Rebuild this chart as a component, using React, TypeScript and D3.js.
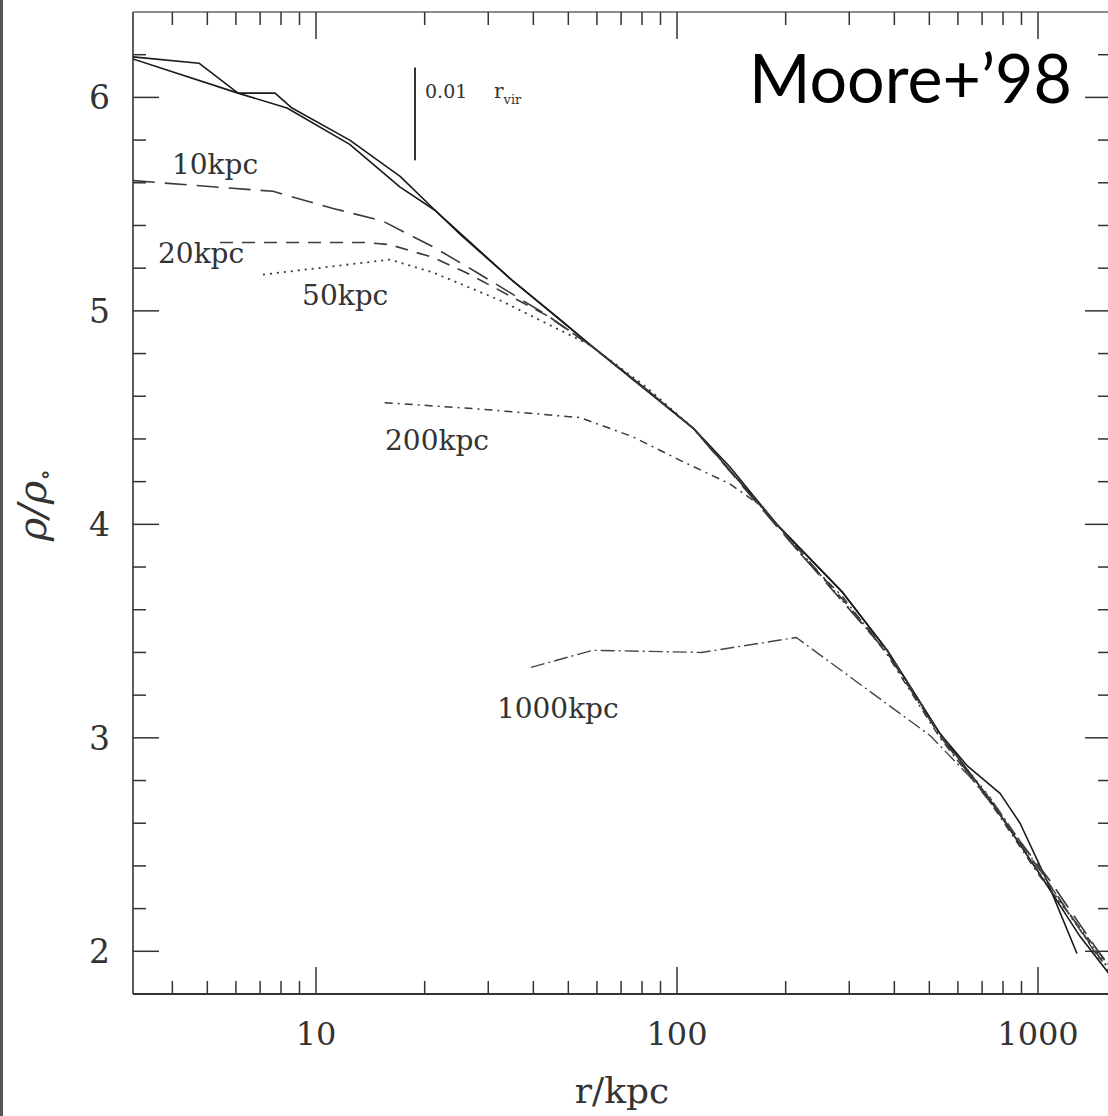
import React from 'react';
import * as d3 from 'd3';

const W = 1108;
const H = 1116;

// axis domains (r in kpc, log) and rho/rho0
const xDomain: [number, number] = [3.112, 1593];
const yDomain: [number, number] = [1.8, 6.4];

const xMajorTicks = [10, 100, 1000];
const xTickLabels = ['10', '100', '1000'];
const yMajorTicks = [2, 3, 4, 5, 6];
const yTickLabels = ['2', '3', '4', '5', '6'];

// profiles: [r (kpc), rho/rho0]
const solidA: [number, number][] = [
  [3.11, 6.19], [4.74, 6.16], [6.08, 6.02], [7.7, 6.02], [8.58, 5.95], [12.4, 5.8],
  [17.1, 5.63], [21.4, 5.47], [25.0, 5.36], [35.1, 5.14], [47.4, 4.96], [58.5, 4.83],
  [82.6, 4.63], [111, 4.45], [140, 4.27], [189, 4.0], [288, 3.68], [382, 3.41],
  [535, 3.02], [636, 2.87], [785, 2.74], [892, 2.6], [1059, 2.33], [1282, 1.99],
];
const solidB: [number, number][] = [
  [3.11, 6.18], [6.08, 6.02], [8.31, 5.95], [12.4, 5.78], [17.1, 5.58], [21.4, 5.47],
  [35.1, 5.14], [58.5, 4.83], [111, 4.45], [189, 4.0], [288, 3.68], [382, 3.41],
  [535, 3.02], [736, 2.71], [1013, 2.36], [1307, 2.07], [1582, 1.89],
];
const kpc10: [number, number][] = [
  [3.11, 5.61], [7.6, 5.56], [11.15, 5.48], [15.33, 5.42], [21.1, 5.3], [27.9, 5.18],
  [43.6, 4.98], [58.5, 4.83], [111, 4.45], [189, 3.99], [382, 3.4], [535, 3.01],
  [736, 2.7], [1080, 2.33], [1582, 1.92],
];
const kpc20: [number, number][] = [
  [5.42, 5.32], [13.75, 5.32], [16.03, 5.31], [21.1, 5.25], [26.0, 5.18], [43.4, 4.98],
  [58.5, 4.83], [111, 4.45], [189, 4.0], [382, 3.41], [535, 3.02], [736, 2.71],
  [1050, 2.34], [1582, 1.9],
];
const kpc50: [number, number][] = [
  [7.13, 5.17], [16.0, 5.24], [21.1, 5.18], [32.3, 5.05], [57.4, 4.84], [82.6, 4.64],
  [111, 4.45], [189, 4.0], [382, 3.4], [535, 3.01], [736, 2.72], [1013, 2.36], [1582, 1.91],
];
const kpc200: [number, number][] = [
  [15.5, 4.57], [28.5, 4.54], [53.9, 4.5], [75.5, 4.41], [102, 4.3], [140, 4.19],
  [173, 4.08], [223, 3.85], [288, 3.66], [382, 3.39], [535, 3.0], [736, 2.7],
  [1013, 2.35], [1582, 1.93],
];
const kpc1000: [number, number][] = [
  [39.4, 3.33], [58.5, 3.41], [117, 3.4], [214, 3.47], [503, 3.01], [736, 2.72],
  [1013, 2.38], [1485, 1.96],
];

const seriesLabels = ['10kpc', '20kpc', '50kpc', '200kpc', '1000kpc'];
// label anchors in data space: [r, rho]
const labelAnchors: [number, number][] = [
  [3.99, 5.64], [3.65, 5.225], [9.15, 5.026], [15.53, 4.347], [31.7, 3.091],
];
const rvirMark: [number, number, number] = [18.8, 6.14, 5.705];

export default function App() {
  const x = d3.scaleLog().domain(xDomain).range([133, 1111]);
  const y = d3.scaleLinear().domain(yDomain).range([994, 12]);
  const line = d3
    .line<[number, number]>()
    .x((d) => x(d[0]))
    .y((d) => y(d[1]));

  const xAll = x.ticks().filter((t) => t > xDomain[0] && t < xDomain[1]);
  const isMajorX = (t: number) => Math.abs(Math.log10(t) - Math.round(Math.log10(t))) < 1e-9;
  const yAll = d3.range(2.0, 6.401, 0.2).map((v) => +v.toFixed(1)).filter((v) => v < 6.39);
  const isMajorY = (v: number) => Math.abs(v - Math.round(v)) < 1e-6;

  const x0 = 133, x1 = 1111, y0 = 994, y1 = 12;
  const axisColor = '#333';
  const serif = '"DejaVu Serif", serif';

  const curves = [
    { d: solidA, dash: undefined, color: '#1a1a1a', w: 1.6 },
    { d: solidB, dash: undefined, color: '#1a1a1a', w: 1.6 },
    { d: kpc10, dash: '22 10', color: '#3a3a3a', w: 1.6 },
    { d: kpc20, dash: '13 9', color: '#3a3a3a', w: 1.6 },
    { d: kpc50, dash: '2 5', color: '#3a3a3a', w: 1.8 },
    { d: kpc200, dash: '8 5 2 5', color: '#3a3a3a', w: 1.5 },
    { d: kpc1000, dash: '14 4 2 4', color: '#444', w: 1.4 },
  ];

  return (
    <svg
      width={W}
      height={H}
      style={{ position: 'absolute', left: 0, top: 0, background: '#fff' }}
    >
      <rect x={0} y={0} width={W} height={H} fill="#fff" />
      <line x1={1.5} x2={1.5} y1={0} y2={H} stroke="#555" strokeWidth={3} />
      <defs>
        <clipPath id="plot">
          <rect x={x0} y={y1} width={x1 - x0} height={y0 - y1} />
        </clipPath>
      </defs>

      {/* frame */}
      <line x1={x0} x2={x0} y1={y1} y2={y0} stroke={axisColor} strokeWidth={1.6} />
      <line x1={x0} x2={x1} y1={y0} y2={y0} stroke={axisColor} strokeWidth={1.8} />
      <line x1={x0} x2={x1} y1={y1} y2={y1} stroke="#666" strokeWidth={1.6} />
      <line x1={x1} x2={x1} y1={y1} y2={y0} stroke={axisColor} strokeWidth={1.6} />

      {/* x ticks */}
      {xAll.map((t, i) => {
        const L = isMajorX(t) ? 27 : 13;
        return (
          <g key={'xt' + i} stroke={axisColor} strokeWidth={1.5}>
            <line x1={x(t)} x2={x(t)} y1={y0} y2={y0 - L} />
            <line x1={x(t)} x2={x(t)} y1={y1} y2={y1 + L} />
          </g>
        );
      })}
      {/* y ticks */}
      {yAll.map((v, i) => {
        const L = isMajorY(v) ? 26 : 13;
        return (
          <g key={'yt' + i} stroke={axisColor} strokeWidth={1.5}>
            <line x1={x0} x2={x0 + L} y1={y(v)} y2={y(v)} />
            <line x1={x1} x2={x1 - L} y1={y(v)} y2={y(v)} />
          </g>
        );
      })}

      {/* tick labels */}
      {xMajorTicks.map((t, i) => (
        <text
          key={'xl' + i}
          x={x(t)}
          y={1045}
          textAnchor="middle"
          fontFamily={serif}
          fontSize={32}
          fill="#333"
        >
          {xTickLabels[i]}
        </text>
      ))}
      {yMajorTicks.map((v, i) => (
        <text
          key={'yl' + i}
          x={110}
          y={y(v) + 12}
          textAnchor="end"
          fontFamily={serif}
          fontSize={33}
          fill="#333"
        >
          {yTickLabels[i]}
        </text>
      ))}

      {/* axis titles */}
      <text x={622} y={1103} textAnchor="middle" fontFamily={serif} fontSize={36} fill="#333">
        r/kpc
      </text>
      <text
        transform="translate(46,505) rotate(-90)"
        textAnchor="middle"
        fontFamily={serif}
        fontStyle="italic"
        fontSize={40}
        fill="#333"
      >
        ρ/ρ
        <tspan fontSize={24} dy={7} fontStyle="normal">∘</tspan>
      </text>

      {/* curves */}
      <g clipPath="url(#plot)" fill="none" strokeLinejoin="round">
        {curves.map((c, i) => (
          <path
            key={'c' + i}
            d={line(c.d) || ''}
            stroke={c.color}
            strokeWidth={c.w}
            strokeDasharray={c.dash}
          />
        ))}
      </g>

      {/* series labels */}
      {seriesLabels.map((s, i) => (
        <text
          key={'sl' + i}
          x={x(labelAnchors[i][0])}
          y={y(labelAnchors[i][1])}
          fontFamily={serif}
          fontSize={28}
          fill="#333"
        >
          {s}
        </text>
      ))}

      {/* 0.01 r_vir marker */}
      <line
        x1={x(rvirMark[0])}
        x2={x(rvirMark[0])}
        y1={y(rvirMark[1])}
        y2={y(rvirMark[2])}
        stroke="#333"
        strokeWidth={2}
      />
      <text x={425} y={98} fontFamily={serif} fontSize={19} fill="#333">
        0.01
      </text>
      <text x={494} y={98} fontFamily={serif} fontSize={20} fill="#333">
        r
        <tspan fontSize={13} dy={6}>vir</tspan>
      </text>

      {/* title */}
      <text
        x={749}
        y={103}
        fontFamily="Lato, 'Open Sans', sans-serif"
        fontSize={67}
        fill="#000"
        textLength={323}
        lengthAdjust="spacingAndGlyphs"
      >
        Moore+’98
      </text>
    </svg>
  );
}
